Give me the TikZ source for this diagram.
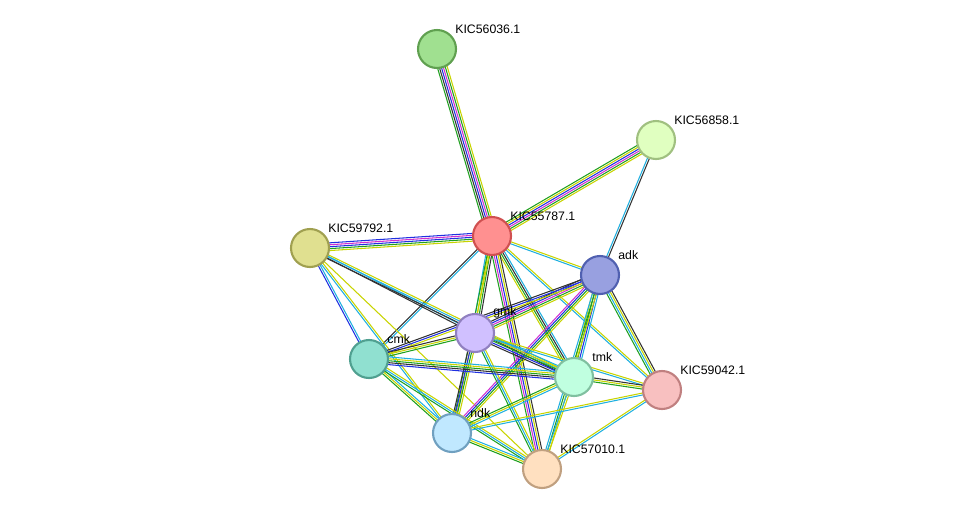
\documentclass[tikz,border=0pt]{standalone}
\usepackage{fontspec}
\setmainfont{Liberation Sans}
\usetikzlibrary{calc,backgrounds}
\definecolor{tmine}{HTML}{C8D400}
\definecolor{coexp}{HTML}{333333}
\definecolor{expm}{HTML}{D030D0}
\definecolor{dbase}{HTML}{20B0E0}
\definecolor{nbhd}{HTML}{20A020}
\definecolor{cooc}{HTML}{2030E0}
\newcommand\edge[3]{%
  \foreach \c [count=\n] in {#3}{\xdef\ncol{\n}}
  \foreach \c [count=\i] in {#3}{
    \pgfmathsetmacro\o{(\i-(\ncol+1)/2)*1.1}
    \draw[\c, line width=0.6pt] ($(#1)!\o pt!90:(#2)$) -- ($(#2)!\o pt!-90:(#1)$);
  }}
\begin{document}
\begin{tikzpicture}[x=0.02cm, y=-0.02cm,
    prot/.style={circle, minimum size=0.76cm, inner sep=0pt, line width=1.2pt},
    lbl/.style={anchor=south west, inner sep=0pt, font=\fontsize{7}{8}\selectfont}]
  \useasboundingbox (0,0) rectangle (976,515);
  % proteins
  \node[prot, fill={rgb,255:red,160;green,224;blue,144}, draw={rgb,255:red,96;green,160;blue,80}] (k036) at (437,49) {};
  \node[prot, fill={rgb,255:red,224;green,255;blue,192}, draw={rgb,255:red,160;green,192;blue,128}] (k858) at (656,140) {};
  \node[prot, fill={rgb,255:red,255;green,144;blue,144}, draw={rgb,255:red,208;green,80;blue,80}] (k787) at (492,236) {};
  \node[prot, fill={rgb,255:red,224;green,224;blue,144}, draw={rgb,255:red,160;green,160;blue,80}] (k792) at (310,248) {};
  \node[prot, fill={rgb,255:red,152;green,160;blue,224}, draw={rgb,255:red,80;green,96;blue,176}] (adk) at (600,275) {};
  \node[prot, fill={rgb,255:red,208;green,192;blue,255}, draw={rgb,255:red,144;green,128;blue,192}] (gmk) at (475,333) {};
  \node[prot, fill={rgb,255:red,144;green,224;blue,208}, draw={rgb,255:red,80;green,160;blue,144}] (cmk) at (369,359) {};
  \node[prot, fill={rgb,255:red,192;green,255;blue,224}, draw={rgb,255:red,128;green,192;blue,160}] (tmk) at (574,377) {};
  \node[prot, fill={rgb,255:red,248;green,192;blue,192}, draw={rgb,255:red,192;green,128;blue,128}] (k042) at (662,390) {};
  \node[prot, fill={rgb,255:red,192;green,232;blue,255}, draw={rgb,255:red,112;green,160;blue,192}] (ndk) at (452,433) {};
  \node[prot, fill={rgb,255:red,255;green,224;blue,192}, draw={rgb,255:red,192;green,160;blue,128}] (k010) at (542,469) {};
  % labels
  \node[lbl] at (455,34) {KIC56036.1};
  \node[lbl] at (674,125) {KIC56858.1};
  \node[lbl] at (510,221) {KIC55787.1};
  \node[lbl] at (328,233) {KIC59792.1};
  \node[lbl] at (618,260) {adk};
  \node[lbl] at (493,318) {gmk};
  \node[lbl] at (387,344) {cmk};
  \node[lbl] at (592,362) {tmk};
  \node[lbl] at (680,375) {KIC59042.1};
  \node[lbl] at (470,418) {ndk};
  \node[lbl] at (560,454) {KIC57010.1};
  % interactions
  \begin{scope}[on background layer]
    \edge{k787}{k036}{tmine,nbhd,expm,cooc,coexp,nbhd}
    \edge{k787}{k858}{tmine,nbhd,expm,cooc,tmine,nbhd}
    \edge{k858}{adk}{dbase,coexp}
    \edge{k787}{k792}{cooc,expm,cooc,nbhd,tmine}
    \edge{k787}{adk}{dbase,tmine}
    \edge{k787}{gmk}{dbase,tmine,nbhd,coexp}
    \edge{k787}{cmk}{coexp,dbase}
    \edge{k787}{tmk}{tmine,nbhd,coexp,dbase}
    \edge{k787}{ndk}{nbhd,tmine}
    \edge{k787}{k010}{nbhd,expm,cooc,tmine,coexp}
    \edge{k787}{k042}{dbase,tmine}
    \edge{k792}{cmk}{cooc,dbase}
    \edge{k792}{gmk}{coexp,dbase}
    \edge{k792}{tmk}{coexp,dbase,tmine}
    \edge{k792}{ndk}{dbase,tmine}
    \edge{k792}{k010}{tmine}
    \edge{adk}{gmk}{coexp,cooc,expm,nbhd,tmine}
    \edge{adk}{cmk}{coexp,cooc,tmine}
    \edge{adk}{tmk}{tmine,nbhd,cooc,dbase}
    \edge{adk}{ndk}{expm,cooc,nbhd,tmine}
    \edge{adk}{k010}{dbase,nbhd,tmine}
    \edge{adk}{k042}{nbhd,dbase,tmine,coexp}
    \edge{gmk}{cmk}{coexp,tmine,nbhd}
    \edge{gmk}{tmk}{coexp,cooc,nbhd,tmine,dbase}
    \edge{gmk}{ndk}{coexp,cooc,nbhd,tmine}
    \edge{gmk}{k010}{nbhd,dbase,tmine}
    \edge{gmk}{k042}{dbase,tmine}
    \edge{cmk}{tmk}{cooc,coexp,nbhd,tmine,dbase}
    \edge{cmk}{ndk}{nbhd,tmine,dbase}
    \edge{cmk}{k010}{nbhd,dbase,tmine}
    \edge{tmk}{ndk}{nbhd,tmine,dbase}
    \edge{tmk}{k010}{dbase,tmine}
    \edge{tmk}{k042}{nbhd,tmine,coexp}
    \edge{ndk}{k010}{nbhd,tmine,dbase}
    \edge{ndk}{k042}{dbase,tmine}
    \edge{k010}{k042}{dbase,tmine}
  \end{scope}
\end{tikzpicture}
\end{document}
